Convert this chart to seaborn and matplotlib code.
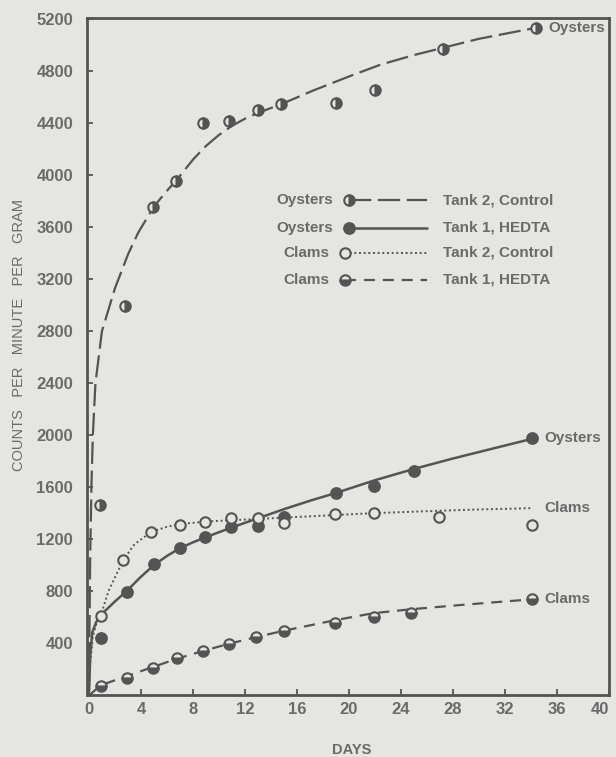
import matplotlib
matplotlib.use("Agg")
import matplotlib.pyplot as plt
import seaborn as sns

# ---- observed values (days, counts per minute per gram) ----
days_oy2 = [0.85, 2.77, 4.9, 6.7, 8.75, 10.8, 13.0, 14.75, 19.0, 22.0, 27.2, 34.4]
cpm_oy2 = [1465, 2990, 3755, 3955, 4400, 4415, 4500, 4545, 4555, 4655, 4970, 5130]

days_oy1 = [0.9, 2.9, 5.0, 7.0, 8.95, 10.95, 13.0, 15.0, 19.0, 21.9, 25.0, 34.1]
cpm_oy1 = [435, 790, 1005, 1130, 1215, 1290, 1300, 1370, 1555, 1610, 1720, 1975]

days_cl2 = [0.9, 2.65, 4.8, 7.0, 8.95, 10.95, 13.0, 15.0, 18.9, 21.9, 26.95, 34.1]
cpm_cl2 = [610, 1040, 1255, 1310, 1330, 1365, 1365, 1320, 1390, 1400, 1370, 1305]

days_cl1 = [0.9, 2.9, 4.9, 6.8, 8.8, 10.8, 12.85, 15.0, 18.9, 21.9, 24.8, 34.05]
cpm_cl1 = [72, 128, 210, 282, 335, 393, 444, 490, 552, 600, 628, 736]

# ---- hand-drawn trend curves ----
fit_oy2_days = [0.0, 0.04, 0.1, 0.2, 0.3, 0.5, 1.0, 2.0, 3.0, 3.8, 5.0, 6.0, 7.0, 8.0,
                9.0, 10.0, 11.0, 12.0, 13.0, 14.75, 17.2, 20.0, 22.4, 25.0, 27.2, 30.0, 34.4]
fit_oy2_cpm = [0, 500, 1100, 1650, 2000, 2400, 2800, 3130, 3390, 3560, 3760, 3880, 3995, 4120,
               4225, 4310, 4380, 4435, 4480, 4545, 4650, 4760, 4850, 4925, 4980, 5050, 5135]

fit_oy1_days = [0.0, 0.1, 0.25, 0.55, 0.9, 2.0, 2.9, 4.0, 5.0, 6.0, 7.0, 8.0, 9.0, 11.0,
                13.0, 15.0, 17.0, 19.0, 21.9, 25.0, 28.0, 31.0, 34.1]
fit_oy1_cpm = [30, 300, 480, 560, 615, 720, 800, 910, 1000, 1070, 1130, 1175, 1215, 1290,
               1360, 1430, 1495, 1555, 1650, 1740, 1820, 1895, 1972]

fit_cl2_days = [0.0, 0.1, 0.3, 0.6, 0.9, 1.5, 2.65, 3.5, 4.8, 6.0, 7.0, 9.0, 11.0, 13.0,
                15.0, 19.0, 22.0, 27.0, 30.0, 34.1]
fit_cl2_cpm = [0, 250, 450, 560, 610, 800, 1040, 1160, 1255, 1295, 1315, 1335, 1345, 1355,
               1365, 1385, 1400, 1418, 1428, 1438]

fit_cl1_days = [0.05, 0.9, 2.9, 4.9, 6.8, 8.8, 10.8, 12.85, 15.0, 18.9, 21.9, 24.8, 28.5, 31.0, 34.05]
fit_cl1_cpm = [0, 75, 145, 215, 280, 340, 395, 445, 495, 575, 630, 660, 692, 712, 736]

legend_species = ["Oysters", "Oysters", "Clams", "Clams"]
legend_tanks = ["Tank 2, Control", "Tank 1, HEDTA", "Tank 2, Control", "Tank 1, HEDTA"]

BG = "#e5e5e2"
INK = "#545454"
TXT = "#6a6a6a"

sns.set_style("ticks")
plt.rcParams["font.family"] = ["Liberation Sans", "DejaVu Sans"]

fig = plt.figure(figsize=(6.16, 7.57), dpi=100, facecolor=BG)
ax = fig.add_axes([87 / 616, 62 / 757, 522 / 616, 677 / 757])
ax.set_facecolor(BG)

LONG_DASH = (0, (10, 3))
DOTS = (0, (1.0, 1.4))
DASH = (0, (5, 3.5))

styles = {
    "oy2": dict(linestyle=LONG_DASH, linewidth=1.6),
    "oy1": dict(linestyle="-", linewidth=1.8),
    "cl2": dict(linestyle=DOTS, linewidth=1.4),
    "cl1": dict(linestyle=DASH, linewidth=1.6),
}
marks = {
    "oy2": dict(marker="o", markersize=7.5, fillstyle="right", markerfacecolor=INK,
                markerfacecoloralt=BG, markeredgecolor=INK, markeredgewidth=1.5),
    "oy1": dict(marker="o", markersize=8, fillstyle="full", markerfacecolor=INK,
                markeredgecolor=INK, markeredgewidth=1.2),
    "cl2": dict(marker="o", markersize=7.5, fillstyle="full", markerfacecolor=BG,
                markeredgecolor=INK, markeredgewidth=1.5),
    "cl1": dict(marker="o", markersize=7.5, fillstyle="bottom", markerfacecolor=INK,
                markerfacecoloralt=BG, markeredgecolor=INK, markeredgewidth=1.5),
}

curves = [("oy2", fit_oy2_days, fit_oy2_cpm), ("oy1", fit_oy1_days, fit_oy1_cpm),
          ("cl2", fit_cl2_days, fit_cl2_cpm), ("cl1", fit_cl1_days, fit_cl1_cpm)]
points = [("oy2", days_oy2, cpm_oy2), ("oy1", days_oy1, cpm_oy1),
          ("cl2", days_cl2, cpm_cl2), ("cl1", days_cl1, cpm_cl1)]

for key, xs, ys in curves:
    sns.lineplot(x=xs, y=ys, ax=ax, color=INK, sort=False, estimator=None,
                 legend=False, **styles[key])
for key, xs, ys in points:
    sns.lineplot(x=xs, y=ys, ax=ax, color=INK, sort=False, estimator=None,
                 legend=False, linestyle="", **marks[key])

# end-of-curve species labels
end_labels = [("Oysters", days_oy2[-1], cpm_oy2[-1]),
              ("Oysters", days_oy1[-1], cpm_oy1[-1]),
              ("Clams", fit_cl2_days[-1], fit_cl2_cpm[-1]),
              ("Clams", days_cl1[-1], cpm_cl1[-1])]
for txt, xv, yv in end_labels:
    ax.annotate(txt, xy=(xv, yv), xytext=(9, 0), textcoords="offset points",
                va="center", ha="left", fontsize=11, fontweight="bold", color=TXT)

# key drawn inside the plot area
row_y = [0.731, 0.690, 0.653, 0.613]
mark_x = [0.502, 0.502, 0.494, 0.494]
for i, key in enumerate(["oy2", "oy1", "cl2", "cl1"]):
    y = row_y[i]
    ax.plot([mark_x[i], 0.652], [y, y], transform=ax.transAxes, color=INK, **styles[key])
    ax.plot([mark_x[i]], [y], transform=ax.transAxes, color=INK, linestyle="", **marks[key])
    ax.text(mark_x[i] - 0.03, y, legend_species[i], transform=ax.transAxes,
            ha="right", va="center", fontsize=11, fontweight="bold", color=TXT)
    ax.text(0.682, y, legend_tanks[i], transform=ax.transAxes,
            ha="left", va="center", fontsize=11, fontweight="bold", color=TXT)

ax.set_xlim(-0.15, 40)
ax.set_ylim(0, 5210)
ax.set_xticks(range(0, 41, 4))
ax.set_yticks(range(400, 5201, 400))
ax.tick_params(direction="in", length=4, width=1.3, color=INK, labelcolor=TXT,
               labelsize=12)
ax.tick_params(axis="x", pad=5)
ax.tick_params(axis="y", pad=10)
for lbl in ax.get_xticklabels() + ax.get_yticklabels():
    lbl.set_fontweight("bold")
# the last day label sits flush against the right frame
ax.get_xticklabels()[-1].set_horizontalalignment("right")
for side in ["left", "right", "top", "bottom"]:
    ax.spines[side].set_color(INK)
    ax.spines[side].set_linewidth(2.0)
ax.set_xlabel("")
ax.set_ylabel("")

fig.text(19 / 616, 1 - 335 / 757, "COUNTS   PER   MINUTE   PER   GRAM", rotation=90,
         ha="center", va="center", fontsize=10.5, color=TXT)
fig.text(352 / 616, 1 - 750 / 757, "DAYS", ha="center", va="center",
         fontsize=10.5, fontweight="bold", color=TXT)

fig.savefig("out.png", dpi=100, facecolor=BG)
